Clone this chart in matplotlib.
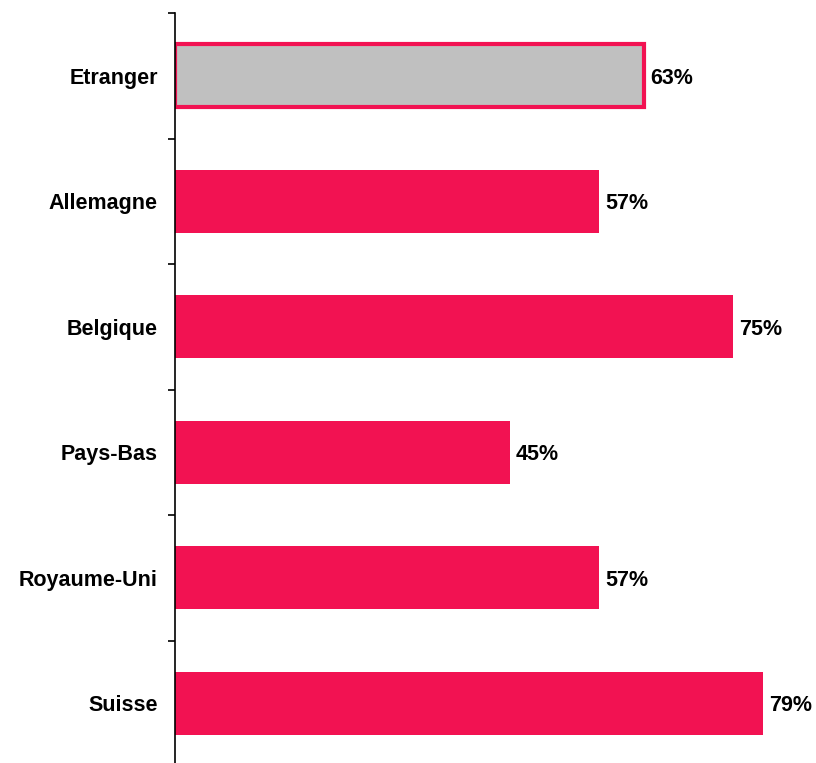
import matplotlib
matplotlib.use("Agg")
from matplotlib import pyplot as plt
import numpy as np

plt.rcParams['font.family'] = ['Liberation Sans', 'DejaVu Sans']

countries = ["Etranger", "Allemagne", "Belgique", "Pays-Bas", "Royaume-Uni", "Suisse"]
values = [63, 57, 75, 45, 57, 79]

RED = "#F21252"
GREY = "#C0C0C0"

fig = plt.figure(figsize=(8.16, 7.63), dpi=100)
ax = fig.add_axes([175 / 816, -3 / 763, 640 / 816, 753 / 763])

y = np.arange(len(countries))
colors = [GREY] + [RED] * (len(countries) - 1)
bars = ax.barh(y, values, height=0.5, color=colors)
bars[0].set_edgecolor(RED)
bars[0].set_linewidth(3)

for yi, v in zip(y, values):
    ax.text(v + 0.8, yi, "{}%".format(v), va="center_baseline", ha="left",
            fontsize=15.5, fontweight="bold")

ax.set_xlim(0, 86)
ax.set_ylim(len(countries) - 0.5, -0.5)
ax.set_yticks(y)
ax.set_yticklabels(countries, fontsize=15.5, fontweight="bold", va="center_baseline")
ax.set_yticks(np.arange(-0.5, len(countries), 1), minor=True)
ax.tick_params(axis="y", which="major", length=0, pad=12.5)
ax.tick_params(axis="y", which="minor", length=5, width=1.2, direction="out")
ax.set_xticks([])
for side in ("top", "right", "bottom"):
    ax.spines[side].set_visible(False)
ax.spines["left"].set_linewidth(1.2)

fig.savefig("out.png", dpi=100)
